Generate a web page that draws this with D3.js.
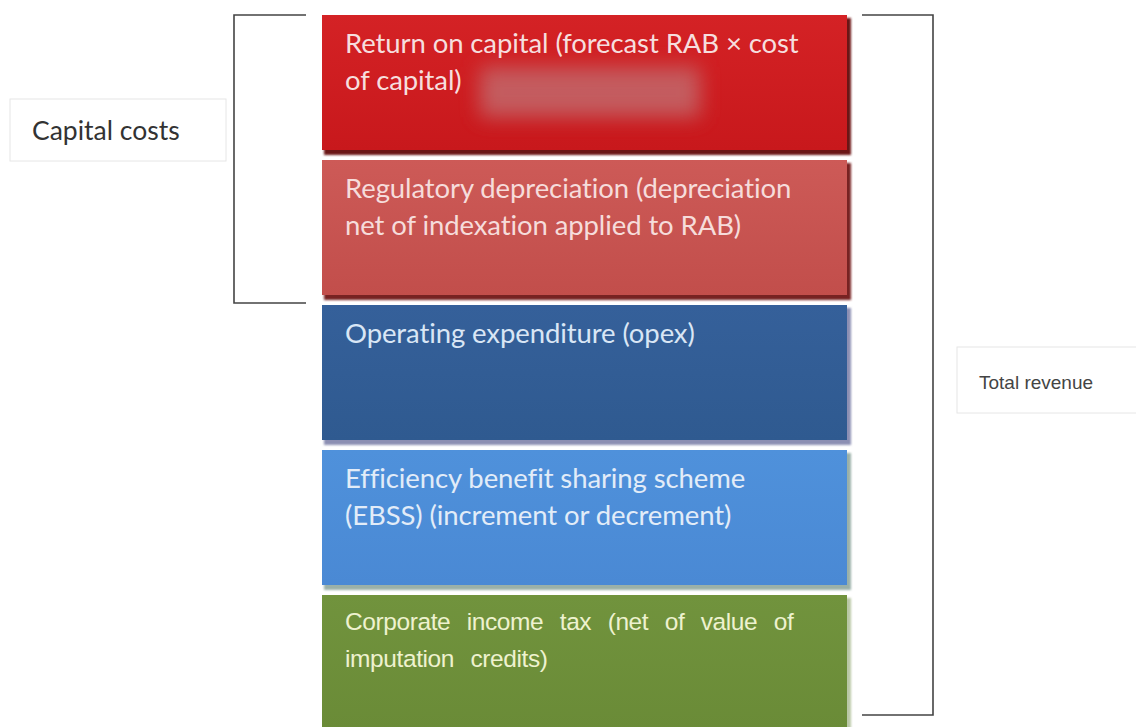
<!DOCTYPE html>
<html>
<head>
<meta charset="utf-8">
<script src="https://cdn.jsdelivr.net/npm/d3@7"></script>
<style>
  body { margin: 0; background: #fff; }
  svg { display: block; }
</style>
</head>
<body>
<div id="chart"></div>
<script>
// Building blocks of total revenue, top to bottom
const blocks = ["roc", "depr", "opex", "ebss", "tax"];
const blockLines = [
  ["Return on capital (forecast RAB × cost", "of capital)"],
  ["Regulatory depreciation (depreciation", "net of indexation applied to RAB)"],
  ["Operating expenditure (opex)"],
  ["Efficiency benefit sharing scheme", "(EBSS) (increment or decrement)"],
  ["Corporate  income tax (net of value of", "imputation credits)"]
];
const blockColors = ["#c8181c", "#c24e4b", "#2f5a90", "#4a89d4", "#6a8b37"];
const blockTop = ["#d42225", "#cd5a57", "#35609a", "#4f91db", "#71933d"];
const shadowColors = ["#6a1212", "#772220", "#8c8fb3", "#9ab0a8", "#b9c7a6"];
const textColors = ["#f6dede", "#f6dcdb", "#d9e6f5", "#e2ecf8", "#eef2cf"];

// Brackets: label, first and last block covered
const groups = [
  {label: "Capital costs", from: "roc", to: "depr", side: "left"},
  {label: "Total revenue", from: "roc", to: "tax", side: "right"}
];

const width = 1136, height = 727;

const svg = d3.select("#chart")
  .append("svg")
  .attr("width", width)
  .attr("height", height);

const defs = svg.append("defs");
defs.append("filter").attr("id", "soft")
  .append("feGaussianBlur").attr("stdDeviation", 1.2);
defs.append("filter").attr("id", "smudge")
  .attr("x", "-50%").attr("y", "-50%").attr("width", "200%").attr("height", "200%")
  .append("feGaussianBlur").attr("stdDeviation", 10);

blocks.forEach((b, i) => {
  const g = defs.append("linearGradient").attr("id", "grad" + i)
    .attr("x1", 0).attr("y1", 0).attr("x2", 0).attr("y2", 1);
  g.append("stop").attr("offset", "0%").attr("stop-color", blockTop[i]);
  g.append("stop").attr("offset", "100%").attr("stop-color", blockColors[i]);
});

// Scales
const y = d3.scaleBand()
  .domain(blocks)
  .range([15, 730])
  .paddingInner(0.069);

const x0 = 322, x1 = 847;

// Shadows
svg.selectAll(".shadow")
  .data(blocks)
  .enter()
  .append("rect")
  .attr("class", "shadow")
  .attr("x", x0 + 2)
  .attr("y", d => y(d) + 3)
  .attr("width", x1 - x0 + 2)
  .attr("height", y.bandwidth() + 2)
  .attr("fill", (d, i) => shadowColors[i])
  .attr("filter", "url(#soft)");

// Blocks
svg.selectAll(".block")
  .data(blocks)
  .enter()
  .append("rect")
  .attr("class", "block")
  .attr("x", x0)
  .attr("y", d => y(d))
  .attr("width", x1 - x0)
  .attr("height", y.bandwidth())
  .attr("fill", (d, i) => `url(#grad${i})`);

// blurred patch in the first block
svg.append("rect")
  .attr("x", 480)
  .attr("y", y("roc") + 52)
  .attr("width", 220)
  .attr("height", 50)
  .attr("fill", "#c2686b")
  .attr("opacity", 0.85)
  .attr("filter", "url(#smudge)");

// Block labels
blocks.forEach((b, i) => {
  const isTax = b === "tax";
  const t = svg.append("text")
    .attr("x", 345)
    .attr("y", y(b) + (isTax ? 35 : 38))
    .attr("fill", textColors[i])
    .style("font-family", isTax ? "'Liberation Sans', Arial, sans-serif" : "Lato, 'Open Sans', sans-serif")
    .style("font-size", isTax ? "24.5px" : "27.5px")
    .style("letter-spacing", isTax ? "-0.4px" : "-0.1px")
    .style("word-spacing", isTax ? "10px" : "0px");
  blockLines[i].forEach((line, j) => {
    t.append("tspan")
      .attr("x", 345)
      .attr("dy", j === 0 ? 0 : 37)
      .text(line);
  });
});

// Brackets
groups.forEach(gr => {
  const top = y(gr.from);
  const bottom = gr.side === "left" ? y(gr.to) + y.bandwidth() + 8 : 715;
  const xv = gr.side === "left" ? 234 : 933;
  const xe = gr.side === "left" ? 306 : 862;
  svg.append("path")
    .attr("d", `M${xe},${top}H${xv}V${bottom}H${xe}`)
    .attr("fill", "none")
    .attr("stroke", "#444")
    .attr("stroke-width", 1.6);
});

// Bracket labels
svg.append("rect")
  .attr("x", 10).attr("y", 99)
  .attr("width", 216).attr("height", 62)
  .attr("fill", "#fff")
  .attr("stroke", "#e6e6e6");
svg.append("text")
  .attr("x", 32).attr("y", 140)
  .attr("fill", "#333")
  .style("font-family", "Lato, 'Open Sans', sans-serif")
  .style("font-size", "26.5px")
  .text(groups[0].label);

svg.append("rect")
  .attr("x", 957).attr("y", 347)
  .attr("width", 190).attr("height", 66)
  .attr("fill", "#fff")
  .attr("stroke", "#e6e6e6");
svg.append("text")
  .attr("x", 979).attr("y", 389)
  .attr("fill", "#444")
  .style("font-family", "'Liberation Sans', Arial, sans-serif")
  .style("font-size", "19px")
  .text(groups[1].label);
</script>
</body>
</html>
